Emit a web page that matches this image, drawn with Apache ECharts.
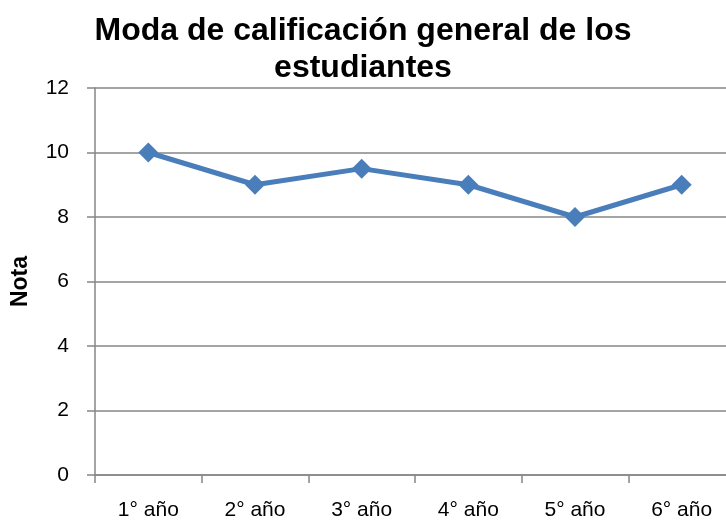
<!DOCTYPE html>
<html>
<head>
<meta charset="utf-8">
<script src="https://cdn.jsdelivr.net/npm/echarts@6/dist/echarts.min.js"></script>
<style>html,body{margin:0;padding:0;background:#fff}#c{width:726px;height:520px}</style>
</head>
<body>
<div id="c"></div>
<script>
const categories = ['1° año', '2° año', '3° año', '4° año', '5° año', '6° año'];
const notaValues = [10, 9, 9.5, 9, 8, 9];
const yTicks = [0, 2, 4, 6, 8, 10, 12];

const chart = echarts.init(document.getElementById('c'));
chart.setOption({
  animation: false,
  backgroundColor: '#fff',
  title: {
    text: 'Moda de calificación general de los\nestudiantes',
    left: 'center',
    top: 8,
    textStyle: { fontFamily: 'Liberation Sans', fontWeight: 'bold', fontSize: 32, color: '#000', lineHeight: 37 }
  },
  grid: { left: 95, width: 640, top: 88, bottom: 45, containLabel: false, outerBoundsMode: 'none' },
  xAxis: {
    type: 'category',
    data: categories,
    boundaryGap: true,
    axisLine: { lineStyle: { color: '#868686', width: 1.5 } },
    axisTick: { show: true, length: 8, inside: false, lineStyle: { color: '#868686', width: 1.5 } },
    axisLabel: { fontFamily: 'Liberation Sans', fontSize: 21, color: '#000', margin: 25 },
    splitLine: { show: false }
  },
  yAxis: {
    type: 'value',
    min: yTicks[0],
    max: yTicks[yTicks.length - 1],
    interval: 2,
    name: 'Nota',
    nameLocation: 'middle',
    nameRotate: 90,
    nameGap: 63,
    nameTextStyle: { fontFamily: 'Liberation Sans', fontWeight: 'bold', fontSize: 23, color: '#000' },
    axisLine: { show: true, lineStyle: { color: '#868686', width: 1.5 } },
    axisTick: { show: true, length: 8, lineStyle: { color: '#868686', width: 1.5 } },
    axisLabel: { fontFamily: 'Liberation Sans', fontSize: 21, color: '#000', margin: 26 },
    splitLine: { show: true, lineStyle: { color: '#868686', width: 1.5 } }
  },
  series: [{
    type: 'line',
    data: notaValues,
    symbol: 'diamond',
    symbolSize: 20,
    showAllSymbol: true,
    lineStyle: { color: '#4A7EBB', width: 5 },
    itemStyle: { color: '#4A7EBB' }
  }]
});
</script>
</body>
</html>
